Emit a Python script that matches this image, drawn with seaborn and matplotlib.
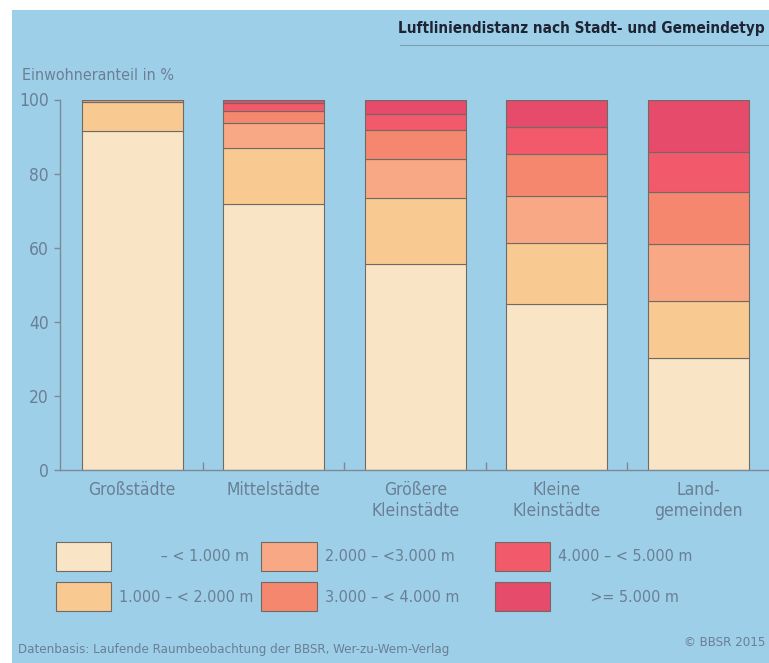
import matplotlib.pyplot as plt
import matplotlib.patches as mpatches
import numpy as np
import seaborn as sns

# Stadt- und Gemeindetypen
categories = ['Großstädte', 'Mittelstädte', 'Größere\nKleinstädte', 'Kleine\nKleinstädte', 'Land-\ngemeinden']

# Einwohneranteil in % je Distanzklasse
unter_1000 = [91.6, 71.8, 55.5, 44.9, 30.2]
von_1000_2000 = [7.6, 15.2, 17.8, 16.3, 15.5]
von_2000_3000 = [0.6, 6.6, 10.6, 12.8, 15.3]
von_3000_4000 = [0.2, 3.4, 7.9, 11.3, 13.9]
von_4000_5000 = [0.0, 2.0, 4.3, 7.2, 10.8]
ab_5000 = [0.0, 1.0, 3.9, 7.5, 14.3]

class_labels = ['         – < 1.000 m', '1.000 – < 2.000 m', '2.000 – <3.000 m       ',
                '3.000 – < 4.000 m      ', '4.000 – < 5.000 m', '       >= 5.000 m']
class_colors = ['#f9e5c6', '#f9c992', '#f8a884', '#f6876f', '#f25a6b', '#e64b6b']

BG = '#9ecfe9'
TXT = '#6a7f94'

sns.set_theme(style='white')
plt.rcParams['font.family'] = ['DejaVu Sans']
plt.rcParams['font.stretch'] = 'condensed'

fig = plt.figure(figsize=(7.69, 6.63), dpi=100)
fig.patch.set_facecolor('white')
bg = mpatches.Rectangle((12 / 769, 0), 1, 1 - 10 / 663, transform=fig.transFigure,
                        facecolor=BG, edgecolor='none', zorder=-10)
fig.patches.append(bg)

ax = fig.add_axes([60 / 769, 1 - 470 / 663, 1 - 60 / 769, (470 - 99.5) / 663])
ax.set_facecolor('none')
ax.set_zorder(5)

series = [unter_1000, von_1000_2000, von_2000_3000, von_3000_4000, von_4000_5000, ab_5000]
bottom = np.zeros(len(categories))
for vals, col in zip(series, class_colors):
    sns.barplot(x=categories, y=vals, bottom=bottom, color=col, saturation=1, width=0.715,
                edgecolor='#6f6a64', linewidth=0.8, ax=ax)
    bottom = bottom + np.array(vals)

ax.set_xlim(-0.51, 4.5)
ax.set_ylim(0, 100)
ax.set_yticks([0, 20, 40, 60, 80, 100])
for s in ['top', 'right']:
    ax.spines[s].set_visible(False)
for s in ['left', 'bottom']:
    ax.spines[s].set_color('#7d8a96')
    ax.spines[s].set_linewidth(1.0)
ax.tick_params(axis='y', colors='#7d8a96', labelcolor=TXT, labelsize=12.5, length=4, width=1, left=True, pad=4)
ax.tick_params(axis='x', labelcolor=TXT, labelsize=12.5, length=0, pad=8)
ax.set_xticks(np.arange(0.5, 4.5, 1), minor=True)
ax.tick_params(axis='x', which='minor', direction='in', length=6, colors='#7d8a96', bottom=True)
ax.set_xlabel('')
ax.set_ylabel('')

fig.text(22 / 769, 1 - 76 / 663, 'Einwohneranteil in %', color=TXT, fontsize=11.5, va='center', ha='left')
fig.text(765 / 769, 1 - 28 / 663, 'Luftliniendistanz nach Stadt- und Gemeindetyp', color='#1e2433',
         fontsize=11, fontweight='bold', ha='right', va='center')
fig.add_artist(plt.Line2D([400 / 769, 1], [1 - 45 / 663] * 2, color='#7f9cb2', linewidth=0.8))

handles = [mpatches.Patch(facecolor=c, edgecolor='#6f6a64', linewidth=0.8) for c in class_colors]
fig.legend(handles, class_labels, loc='upper left', bbox_to_anchor=(56 / 769, 1 - 542 / 663),
           ncol=3, frameon=False, fontsize=11.5, labelcolor=TXT, handlelength=3.45, handleheight=2.4,
           handletextpad=0.5, labelspacing=0.72, columnspacing=0.5, borderpad=0, borderaxespad=0)

fig.text(18 / 769, 1 - 649 / 663, 'Datenbasis: Laufende Raumbeobachtung der BBSR, Wer-zu-Wem-Verlag',
         color=TXT, fontsize=9.5, va='center', ha='left')
fig.text(765 / 769, 1 - 643 / 663, '© BBSR 2015', color=TXT, fontsize=9.5, va='center', ha='right')

fig.savefig('out.png', dpi=100, facecolor=fig.get_facecolor())
